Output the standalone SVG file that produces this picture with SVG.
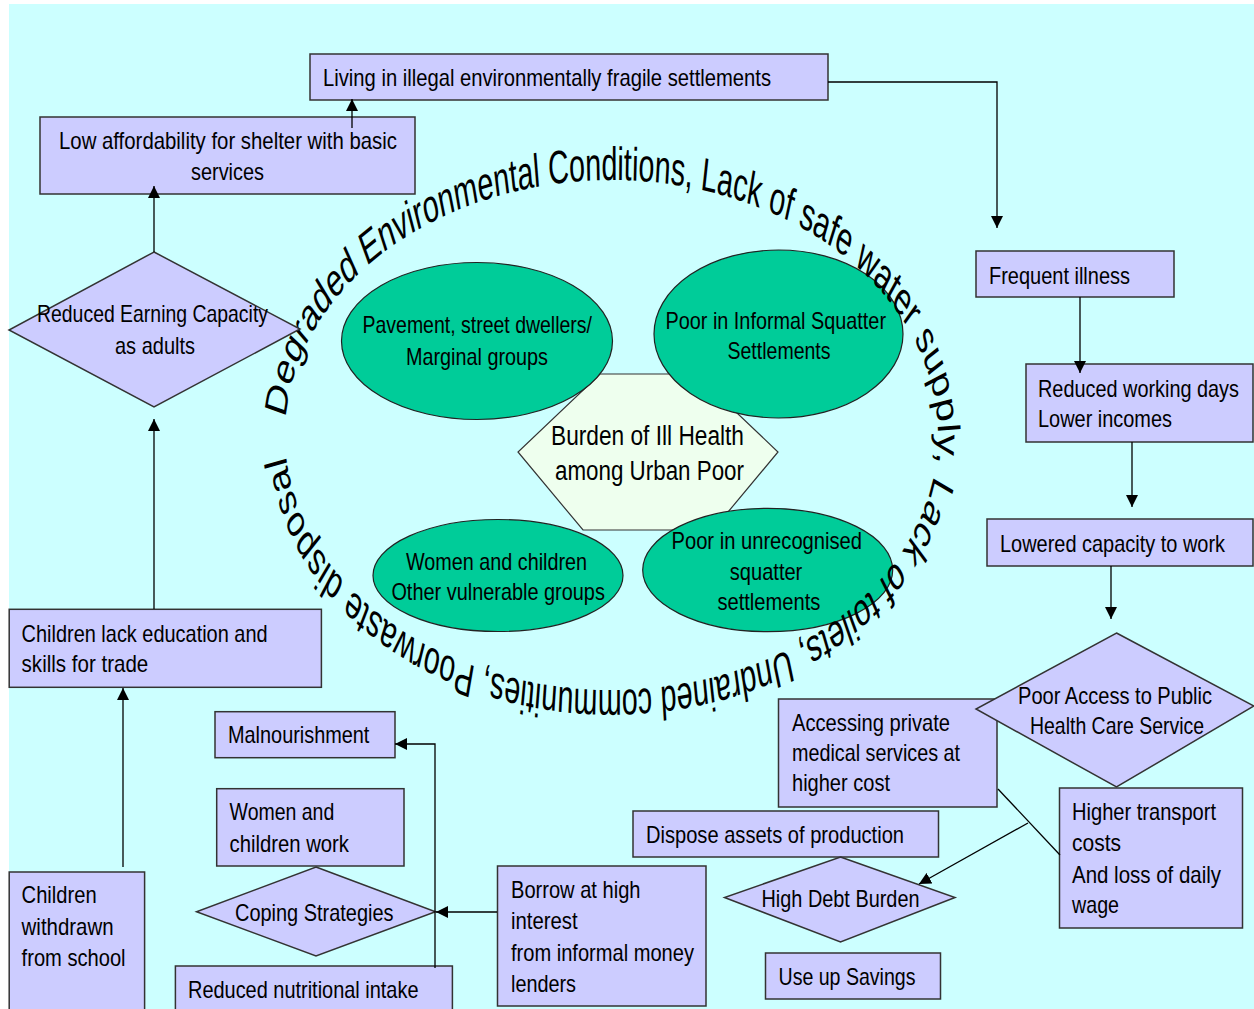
<svg xmlns="http://www.w3.org/2000/svg" width="1254" height="1009" viewBox="0 0 1254 1009">
<defs>
<style>
.bx{fill:#CCCCFF;stroke:#333;stroke-width:1.5}
.el{fill:#00CC99;stroke:#222;stroke-width:1.2}
.hx{fill:#EEFFEE;stroke:#333;stroke-width:1.2}
.t{font-family:"Liberation Sans Narrow","Liberation Sans",Arial,sans-serif;font-size:24px;fill:#000}
.th{font-family:"Liberation Sans Narrow","Liberation Sans",Arial,sans-serif;font-size:27px;fill:#000}
.c{stroke:#000;stroke-width:1.3;fill:none}
.ring{font-family:"Liberation Sans",Arial,sans-serif;font-size:39px;fill:#000}
</style>
<marker id="ah" viewBox="0 0 10 10" refX="10" refY="5" markerWidth="12" markerHeight="12" markerUnits="userSpaceOnUse" orient="auto">
<path d="M0,0 L10,5 L0,10 z" fill="#000"/>
</marker>
<path id="ringPath" d="M -408,0 A 408,212.5 0 1,1 408,0 A 408,212.5 0 1,1 -408,0"/>
</defs>
<rect x="0" y="0" width="1254" height="1009" fill="#FFFFFF"/>
<rect x="9" y="4" width="1245" height="1005" fill="#CCFFFF"/>

<g id="center-hexagon">
<polygon class="hx" points="600,374 696,374 778,452 713,530 583,530 518,452"/>
<text class="th" x="551" y="445" textLength="193" lengthAdjust="spacingAndGlyphs">Burden of Ill Health</text>
<text class="th" x="555" y="480" textLength="189" lengthAdjust="spacingAndGlyphs">among Urban Poor</text>
</g>
<g id="ellipse-pavement">
<ellipse class="el" cx="477" cy="341" rx="135.5" ry="78.5"/>
<text class="t" x="362.5" y="333" textLength="229.5" lengthAdjust="spacingAndGlyphs">Pavement, street dwellers/</text>
<text class="t" x="406" y="365" textLength="142" lengthAdjust="spacingAndGlyphs">Marginal groups</text>
</g>
<g id="ellipse-informal">
<ellipse class="el" cx="778.5" cy="334" rx="124.5" ry="84"/>
<text class="t" x="665.5" y="329" textLength="220.5" lengthAdjust="spacingAndGlyphs">Poor in Informal Squatter</text>
<text class="t" x="727.5" y="359" textLength="103" lengthAdjust="spacingAndGlyphs">Settlements</text>
</g>
<g id="ellipse-women">
<ellipse class="el" cx="498" cy="575.5" rx="125" ry="56"/>
<text class="t" x="406" y="570" textLength="181" lengthAdjust="spacingAndGlyphs">Women and children</text>
<text class="t" x="391.4" y="600" textLength="213.5" lengthAdjust="spacingAndGlyphs">Other vulnerable groups</text>
</g>
<g id="ellipse-unrecognised">
<ellipse class="el" cx="767.7" cy="570" rx="125" ry="61.7"/>
<text class="t" x="671.5" y="549" textLength="190.5" lengthAdjust="spacingAndGlyphs">Poor in unrecognised</text>
<text class="t" x="729.8" y="580" textLength="72.5" lengthAdjust="spacingAndGlyphs">squatter</text>
<text class="t" x="717.4" y="610" textLength="103" lengthAdjust="spacingAndGlyphs">settlements</text>
</g>

<g id="ring-text" transform="translate(611.5,435) scale(0.8,1.2)">
<text class="ring"><textPath href="#ringPath" startOffset="14" textLength="1966" lengthAdjust="spacingAndGlyphs">Degraded Environmental Conditions, Lack of safe water supply,  Lack of toilets, Undrained communities, Poorwaste  disposal</textPath></text>
</g>

<g id="node-living">
<rect class="bx" x="310" y="54" width="518" height="46"/>
<text class="t" x="323" y="86" textLength="448" lengthAdjust="spacingAndGlyphs">Living in illegal environmentally fragile settlements</text>
</g>
<g id="node-low-affordability">
<rect class="bx" x="40" y="117" width="375" height="77"/>
<text class="t" x="59" y="149" textLength="338" lengthAdjust="spacingAndGlyphs">Low affordability for shelter with basic</text>
<text class="t" x="191" y="180" textLength="73" lengthAdjust="spacingAndGlyphs">services</text>
</g>
<g id="node-reduced-earning">
<polygon class="bx" points="154,252 300,329 154,407 9,330"/>
<text class="t" x="37" y="322" textLength="231" lengthAdjust="spacingAndGlyphs">Reduced Earning Capacity</text>
<text class="t" x="115" y="354" textLength="80" lengthAdjust="spacingAndGlyphs">as adults</text>
</g>
<g id="node-frequent-illness">
<rect class="bx" x="976" y="251" width="198" height="46"/>
<text class="t" x="989" y="284" textLength="141" lengthAdjust="spacingAndGlyphs">Frequent illness</text>
</g>
<g id="node-reduced-working">
<rect class="bx" x="1026" y="364" width="227" height="78"/>
<text class="t" x="1038" y="397" textLength="201" lengthAdjust="spacingAndGlyphs">Reduced working days</text>
<text class="t" x="1038" y="427" textLength="134" lengthAdjust="spacingAndGlyphs">Lower incomes</text>
</g>
<g id="node-lowered-capacity">
<rect class="bx" x="987" y="519" width="266" height="47"/>
<text class="t" x="1000" y="552" textLength="225" lengthAdjust="spacingAndGlyphs">Lowered capacity to work</text>
</g>
<g id="node-accessing-private">
<rect class="bx" x="778.5" y="699" width="218.5" height="108"/>
<text class="t" x="792" y="731" textLength="158" lengthAdjust="spacingAndGlyphs">Accessing private</text>
<text class="t" x="792" y="761" textLength="168" lengthAdjust="spacingAndGlyphs">medical services at</text>
<text class="t" x="792" y="791" textLength="98" lengthAdjust="spacingAndGlyphs">higher cost</text>
</g>
<g id="node-poor-access">
<polygon class="bx" points="1116.5,633 1254,706 1116.5,787 976,709"/>
<text class="t" x="1018" y="704" textLength="194" lengthAdjust="spacingAndGlyphs">Poor Access to Public</text>
<text class="t" x="1030" y="734" textLength="174" lengthAdjust="spacingAndGlyphs">Health Care Service</text>
</g>
<g id="node-higher-transport">
<rect class="bx" x="1059.5" y="788" width="183" height="140"/>
<text class="t" x="1072" y="820" textLength="144" lengthAdjust="spacingAndGlyphs">Higher transport</text>
<text class="t" x="1072" y="851" textLength="49" lengthAdjust="spacingAndGlyphs">costs</text>
<text class="t" x="1072" y="883" textLength="149" lengthAdjust="spacingAndGlyphs">And loss of daily</text>
<text class="t" x="1072" y="913" textLength="47" lengthAdjust="spacingAndGlyphs">wage</text>
</g>
<g id="node-dispose-assets">
<rect class="bx" x="633" y="811" width="305.5" height="46"/>
<text class="t" x="646" y="843" textLength="258" lengthAdjust="spacingAndGlyphs">Dispose assets of production</text>
</g>
<g id="node-high-debt">
<polygon class="bx" points="840.5,857 955,897.5 840.5,942 724.5,897.5"/>
<text class="t" x="761.5" y="907" textLength="158" lengthAdjust="spacingAndGlyphs">High Debt Burden</text>
</g>
<g id="node-use-savings">
<rect class="bx" x="765.5" y="953" width="175" height="46"/>
<text class="t" x="778.5" y="985" textLength="137" lengthAdjust="spacingAndGlyphs">Use up Savings</text>
</g>
<g id="node-borrow">
<rect class="bx" x="497.5" y="866" width="208.5" height="140"/>
<text class="t" x="511" y="897.5" textLength="129.5" lengthAdjust="spacingAndGlyphs">Borrow at high</text>
<text class="t" x="511" y="929" textLength="66.6" lengthAdjust="spacingAndGlyphs">interest</text>
<text class="t" x="511" y="961" textLength="183" lengthAdjust="spacingAndGlyphs">from informal money</text>
<text class="t" x="511" y="992" textLength="65" lengthAdjust="spacingAndGlyphs">lenders</text>
</g>
<g id="node-coping">
<polygon class="bx" points="316,867 435.5,911.7 316,956 196.5,911.7"/>
<text class="t" x="235" y="920.7" textLength="158.5" lengthAdjust="spacingAndGlyphs">Coping Strategies</text>
</g>
<g id="node-women-work">
<rect class="bx" x="216.7" y="788.7" width="187.3" height="77.3"/>
<text class="t" x="229.6" y="820" textLength="104.7" lengthAdjust="spacingAndGlyphs">Women and</text>
<text class="t" x="229.6" y="851.7" textLength="119.4" lengthAdjust="spacingAndGlyphs">children work</text>
</g>
<g id="node-malnourishment">
<rect class="bx" x="215" y="711.7" width="180" height="46"/>
<text class="t" x="228" y="743" textLength="141.4" lengthAdjust="spacingAndGlyphs">Malnourishment</text>
</g>
<g id="node-reduced-nutritional">
<rect class="bx" x="175.4" y="966" width="277" height="50"/>
<text class="t" x="188" y="997.7" textLength="230.5" lengthAdjust="spacingAndGlyphs">Reduced nutritional intake</text>
</g>
<g id="node-children-withdrawn">
<rect class="bx" x="9.2" y="872" width="135.4" height="144"/>
<text class="t" x="21.6" y="903" textLength="75" lengthAdjust="spacingAndGlyphs">Children</text>
<text class="t" x="21.6" y="935" textLength="92" lengthAdjust="spacingAndGlyphs">withdrawn</text>
<text class="t" x="21.6" y="966" textLength="104" lengthAdjust="spacingAndGlyphs">from school</text>
</g>
<g id="node-children-lack">
<rect class="bx" x="9.2" y="609.3" width="312.2" height="78"/>
<text class="t" x="21.6" y="641.7" textLength="246" lengthAdjust="spacingAndGlyphs">Children lack education and</text>
<text class="t" x="21.6" y="671.7" textLength="126.7" lengthAdjust="spacingAndGlyphs">skills for trade</text>
</g>

<g id="connectors">
<line class="c" x1="154" y1="252" x2="154" y2="186" marker-end="url(#ah)"/>
<line class="c" x1="352" y1="128" x2="352" y2="99" marker-end="url(#ah)"/>
<polyline class="c" points="828,82 997,82 997,228" marker-end="url(#ah)"/>
<line class="c" x1="1080" y1="297" x2="1080" y2="373" marker-end="url(#ah)"/>
<line class="c" x1="1132" y1="442" x2="1132" y2="507" marker-end="url(#ah)"/>
<line class="c" x1="1111" y1="566" x2="1111" y2="619" marker-end="url(#ah)"/>
<line class="c" x1="998" y1="789" x2="1060" y2="855"/>
<line class="c" x1="1028" y1="823" x2="919" y2="884" marker-end="url(#ah)"/>
<line class="c" x1="497" y1="912" x2="436" y2="912" marker-end="url(#ah)"/>
<polyline class="c" points="435,968 435,744 395,744" marker-end="url(#ah)"/>
<line class="c" x1="123" y1="867" x2="123" y2="688" marker-end="url(#ah)"/>
<line class="c" x1="154" y1="609" x2="154" y2="419" marker-end="url(#ah)"/>
</g>
</svg>
